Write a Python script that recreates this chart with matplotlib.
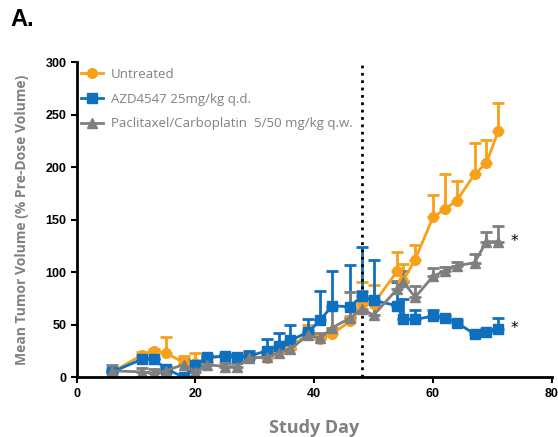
import numpy as np
import matplotlib.pyplot as plt
from matplotlib.lines import Line2D

# Study days (shared by all groups)
days = [6, 11, 13, 15, 18, 20, 22, 25, 27, 29, 32, 34, 36, 39, 41, 43, 46, 48,
        50, 54, 55, 57, 60, 62, 64, 67, 69, 71]

# Untreated
untreated = [5, 21, 25, 23, 14, 13, 18, 20, 19, 20, 18, 25, 28, 42, 36, 41, 53, 70,
             70, 101, 92, 112, 152, 160, 168, 193, 204, 234]
untreated_err = [3, 3, 2, 15, 6, 10, 3, 2, 3, 3, 3, 3, 4, 8, 5, 5, 5, 21,
                 18, 18, 16, 14, 21, 33, 19, 30, 22, 27]

# AZD4547 25mg/kg q.d.
azd = [5, 17, 17, 8, 0, 12, 19, 20, 19, 20, 25, 30, 35, 43, 54, 68, 67, 77,
       73, 68, 55, 55, 58, 56, 52, 41, 43, 46]
azd_err = [2, 2, 1, 2, 1, 2, 2, 2, 2, 5, 11, 12, 15, 12, 28, 33, 40, 47,
           39, 23, 19, 9, 6, 3, 2, 2, 3, 10]

# Paclitaxel/Carboplatin 5/50 mg/kg q.w.
pac = [6, 5, 4, 6, 12, 5, 12, 10, 10, 18, 19, 23, 27, 40, 37, 47, 56, 65,
       59, 84, 91, 76, 96, 101, 106, 109, 129, 129]
pac_err = [6, 4, 4, 4, 5, 6, 2, 3, 3, 3, 3, 4, 4, 5, 5, 19, 25, 17,
           12, 8, 10, 11, 8, 4, 4, 8, 9, 15]

orange = '#F7A11A'
blue = '#1070C0'
grey = '#7F7F7F'

fig = plt.figure(figsize=(5.58, 4.37), dpi=100)
ax = fig.add_axes([0.1375, 0.137, 0.8512, 0.721])

series = [
    (untreated, untreated_err, orange, 'o', 'Untreated'),
    (azd, azd_err, blue, 's', 'AZD4547 25mg/kg q.d.'),
    (pac, pac_err, grey, '^', 'Paclitaxel/Carboplatin  5/50 mg/kg q.w.'),
]
handles = []
for vals, err, col, mk, lab in series:
    lower = np.zeros(len(err))
    ax.errorbar(days, vals, yerr=[lower, err], color=col, marker=mk,
                markersize=7, lw=2, elinewidth=2, capsize=4, capthick=2)
    handles.append(Line2D([], [], color=col, marker=mk, markersize=7, lw=2,
                          label=lab))

ax.axvline(48, color='black', ls=':', lw=2)

ax.text(73, azd[-1], '*', fontsize=11, va='center', ha='left')
ax.text(73, pac[-1], '*', fontsize=11, va='center', ha='left')

ax.set_xlim(0, 80)
ax.set_ylim(0, 300)
ax.set_xticks([0, 20, 40, 60, 80])
ax.set_yticks([0, 50, 100, 150, 200, 250, 300])
ax.spines['top'].set_visible(False)
ax.spines['right'].set_visible(False)
ax.spines['left'].set_linewidth(2)
ax.spines['bottom'].set_linewidth(2)
ax.tick_params(width=1.5, length=4, labelsize=9)
for t in ax.get_xticklabels() + ax.get_yticklabels():
    t.set_fontweight('bold')
    t.set_family('Liberation Sans')

ax.set_xlabel('Study Day', fontsize=13, color='#808080', fontweight='bold',
              family='Open Sans', labelpad=14)
ax.set_ylabel('Mean Tumor Volume (% Pre-Dose Volume)', fontsize=10,
              color='#808080', fontweight='bold', family='Open Sans', labelpad=12)

leg = ax.legend(handles=handles, loc='upper left', frameon=False, fontsize=9.5,
                handlelength=1.6, handletextpad=0.6, labelspacing=0.9,
                bbox_to_anchor=(-0.015, 1.02))
for t in leg.get_texts():
    t.set_color('#808080')
    t.set_family('Open Sans')

fig.text(0.018, 0.955, 'A.', fontsize=17, fontweight='bold',
         family='Liberation Sans', va='center')

fig.savefig('out.png', dpi=100)
